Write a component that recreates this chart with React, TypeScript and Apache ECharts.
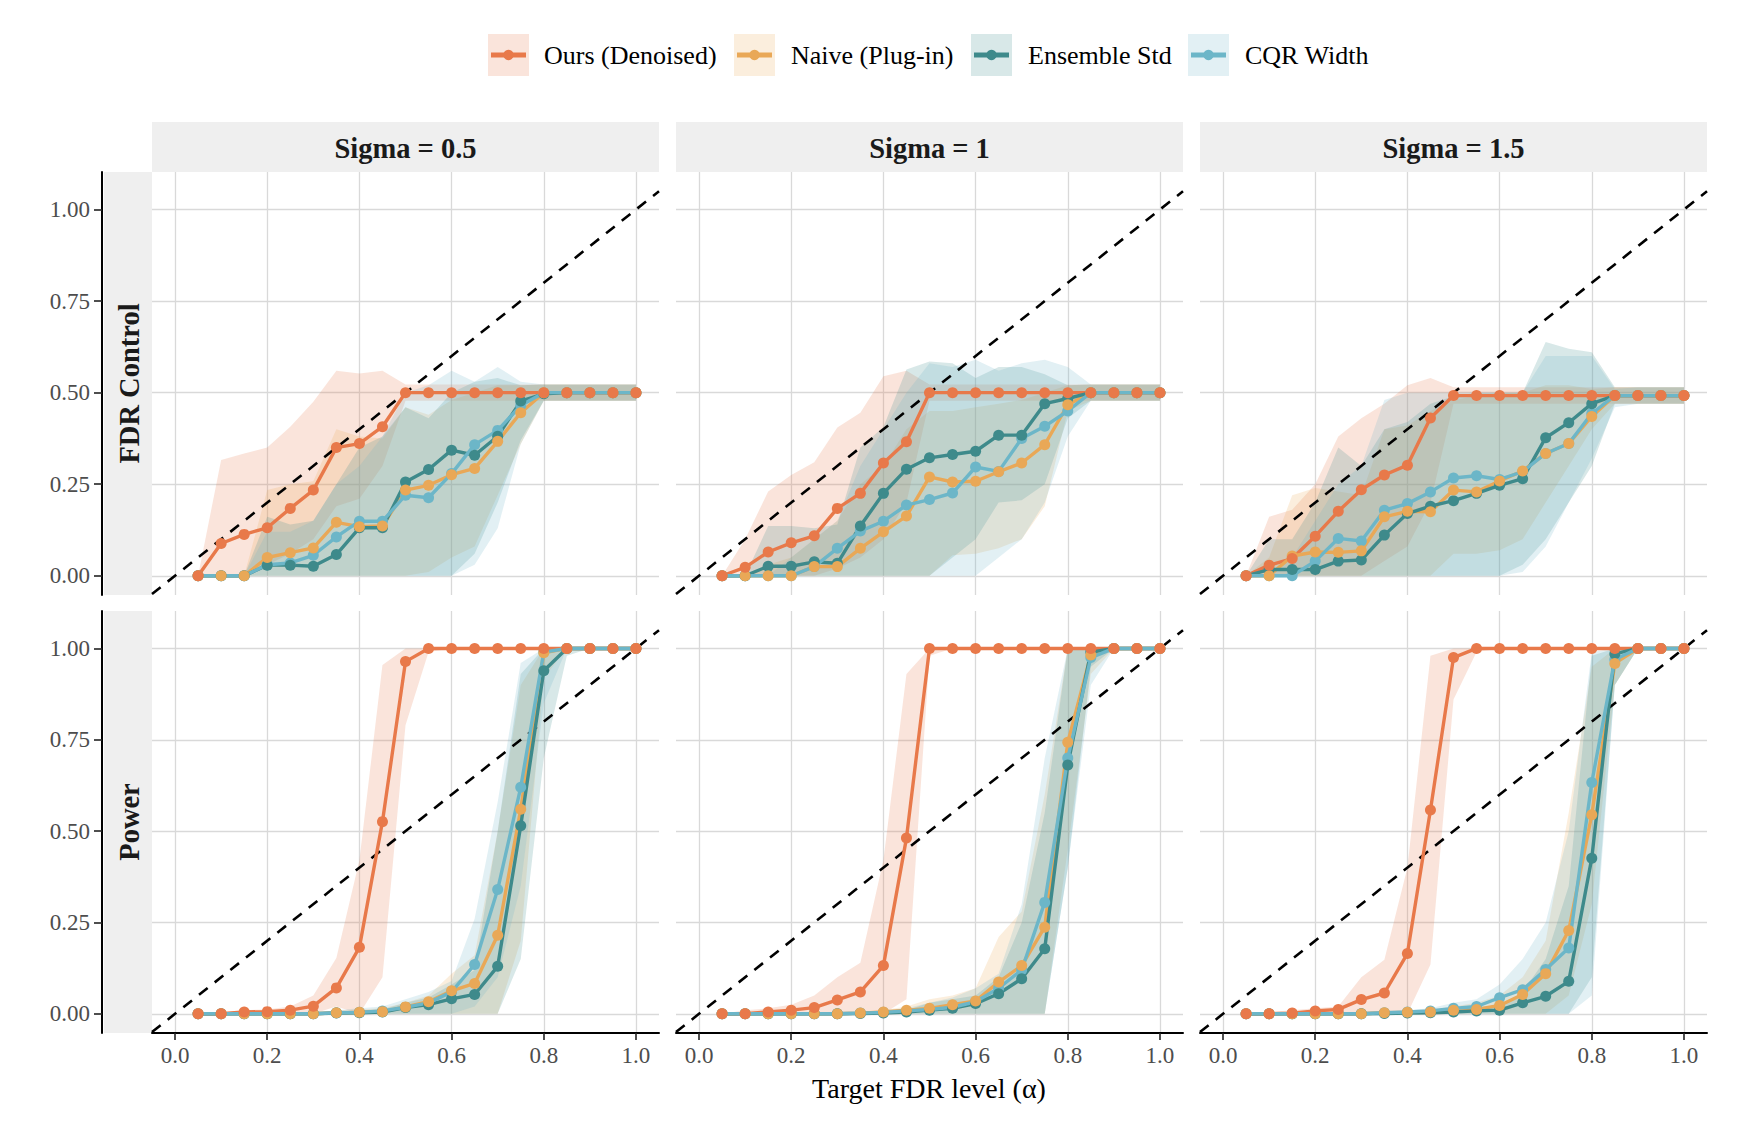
import React, { useEffect, useRef } from 'react';
import * as echarts from 'echarts';

// ---------------- data ----------------
const XS = [0.05, 0.1, 0.15, 0.2, 0.25, 0.3, 0.35, 0.4, 0.45, 0.5, 0.55, 0.6, 0.65, 0.7, 0.75, 0.8, 0.85, 0.9, 0.95, 1.0];
const METHODS = ['Ours (Denoised)', 'Naive (Plug-in)', 'Ensemble Std', 'CQR Width'];
const COLORS = ['#E8794A', '#E9A857', '#3E8A8B', '#6CB6C8'];
const RIBBON_FILLS = ['rgba(232,121,74,0.2)', 'rgba(233,168,87,0.2)', 'rgba(62,138,139,0.2)', 'rgba(108,182,200,0.2)'];
const SIGMA_LABELS = ['Sigma = 0.5', 'Sigma = 1', 'Sigma = 1.5'];
const ROW_LABELS = ['FDR Control', 'Power'];
const X_TICKS = [0, 0.2, 0.4, 0.6, 0.8, 1.0];
const Y_TICKS = [0, 0.25, 0.5, 0.75, 1.0];
const X_TITLE = 'Target FDR level (\u03b1)';

// FDR Control, Sigma = 0.5
const f05_ours = [0, 0.088, 0.113, 0.131, 0.184, 0.234, 0.35, 0.361, 0.407, 0.5, 0.5, 0.5, 0.5, 0.5, 0.5, 0.5, 0.5, 0.5, 0.5, 0.5];
const f05_ours_lo = [0, 0, 0, 0.03, 0.06, 0.1, 0.19, 0.21, 0.3, 0.478, 0.478, 0.478, 0.478, 0.478, 0.478, 0.478, 0.478, 0.478, 0.478, 0.478];
const f05_ours_hi = [0, 0.316, 0.334, 0.35, 0.407, 0.475, 0.56, 0.552, 0.56, 0.522, 0.522, 0.522, 0.522, 0.522, 0.522, 0.522, 0.522, 0.522, 0.522, 0.522];
const f05_naive = [0, 0, 0, 0.05, 0.063, 0.076, 0.146, 0.134, 0.136, 0.234, 0.247, 0.276, 0.293, 0.367, 0.445, 0.5, 0.5, 0.5, 0.5, 0.5];
const f05_naive_lo = [0, 0, 0, 0, 0, 0, 0, 0, 0, 0, 0.01, 0.05, 0.08, 0.22, 0.36, 0.478, 0.478, 0.478, 0.478, 0.478];
const f05_naive_hi = [0, 0, 0, 0.234, 0.25, 0.258, 0.4, 0.38, 0.375, 0.46, 0.44, 0.48, 0.5, 0.52, 0.52, 0.522, 0.522, 0.522, 0.522, 0.522];
const f05_ens = [0, 0, 0, 0.029, 0.029, 0.026, 0.058, 0.131, 0.131, 0.256, 0.29, 0.343, 0.329, 0.381, 0.477, 0.497, 0.5, 0.5, 0.5, 0.5];
const f05_ens_lo = [0, 0, 0, 0, 0, 0, 0, 0, 0, 0, 0, 0, 0.06, 0.2, 0.37, 0.478, 0.478, 0.478, 0.478, 0.478];
const f05_ens_hi = [0, 0, 0, 0.161, 0.14, 0.15, 0.25, 0.35, 0.38, 0.46, 0.43, 0.5, 0.53, 0.54, 0.52, 0.522, 0.522, 0.522, 0.522, 0.522];
const f05_cqr = [0, 0, 0, 0.03, 0.035, 0.056, 0.106, 0.149, 0.149, 0.22, 0.213, 0.279, 0.358, 0.397, 0.465, 0.5, 0.5, 0.5, 0.5, 0.5];
const f05_cqr_lo = [0, 0, 0, 0, 0, 0, 0, 0, 0, 0, 0, 0, 0.03, 0.13, 0.36, 0.478, 0.478, 0.478, 0.478, 0.478];
const f05_cqr_hi = [0, 0, 0, 0.12, 0.12, 0.15, 0.25, 0.3, 0.38, 0.5, 0.52, 0.56, 0.53, 0.57, 0.53, 0.522, 0.522, 0.522, 0.522, 0.522];

// FDR Control, Sigma = 1
const f10_ours = [0, 0.023, 0.065, 0.09, 0.109, 0.184, 0.225, 0.308, 0.366, 0.5, 0.5, 0.5, 0.5, 0.5, 0.5, 0.5, 0.5, 0.5, 0.5, 0.5];
const f10_ours_lo = [0, 0, 0, 0, 0, 0.02, 0.05, 0.1, 0.2, 0.478, 0.478, 0.478, 0.478, 0.478, 0.478, 0.478, 0.478, 0.478, 0.478, 0.478];
const f10_ours_hi = [0, 0.1, 0.23, 0.275, 0.31, 0.405, 0.445, 0.545, 0.56, 0.522, 0.522, 0.522, 0.522, 0.522, 0.522, 0.522, 0.522, 0.522, 0.522, 0.522];
const f10_naive = [0, 0, 0, 0, 0.025, 0.025, 0.075, 0.12, 0.163, 0.27, 0.256, 0.258, 0.284, 0.308, 0.358, 0.467, 0.5, 0.5, 0.5, 0.5];
const f10_naive_lo = [0, 0, 0, 0, 0, 0, 0, 0, 0, 0, 0.056, 0.06, 0.075, 0.1, 0.19, 0.45, 0.478, 0.478, 0.478, 0.478];
const f10_naive_hi = [0, 0, 0.03, 0.05, 0.1, 0.15, 0.25, 0.3, 0.4, 0.45, 0.45, 0.46, 0.47, 0.48, 0.5, 0.52, 0.522, 0.522, 0.522, 0.522];
const f10_ens = [0, 0, 0.026, 0.026, 0.038, 0.034, 0.136, 0.225, 0.291, 0.322, 0.331, 0.34, 0.384, 0.384, 0.47, 0.484, 0.5, 0.5, 0.5, 0.5];
const f10_ens_lo = [0, 0, 0, 0, 0, 0, 0, 0, 0, 0, 0.05, 0.1, 0.2, 0.206, 0.25, 0.43, 0.478, 0.478, 0.478, 0.478];
const f10_ens_hi = [0, 0, 0.136, 0.136, 0.13, 0.14, 0.35, 0.406, 0.563, 0.585, 0.58, 0.54, 0.57, 0.57, 0.55, 0.52, 0.522, 0.522, 0.522, 0.522];
const f10_cqr = [0, 0, 0, 0, 0.025, 0.075, 0.122, 0.149, 0.193, 0.208, 0.226, 0.297, 0.285, 0.375, 0.408, 0.45, 0.5, 0.5, 0.5, 0.5];
const f10_cqr_lo = [0, 0, 0, 0, 0, 0, 0, 0, 0, 0, 0, 0, 0.05, 0.1, 0.2, 0.38, 0.478, 0.478, 0.478, 0.478];
const f10_cqr_hi = [0, 0, 0, 0.05, 0.1, 0.15, 0.3, 0.4, 0.5, 0.58, 0.57, 0.59, 0.56, 0.58, 0.59, 0.57, 0.522, 0.522, 0.522, 0.522];

// FDR Control, Sigma = 1.5
const f15_ours = [0, 0.029, 0.047, 0.108, 0.176, 0.235, 0.275, 0.302, 0.431, 0.492, 0.492, 0.492, 0.492, 0.492, 0.492, 0.492, 0.492, 0.492, 0.492, 0.492];
const f15_ours_lo = [0, 0, 0, 0, 0, 0, 0.04, 0.08, 0.2, 0.47, 0.47, 0.47, 0.47, 0.47, 0.47, 0.47, 0.47, 0.47, 0.47, 0.47];
const f15_ours_hi = [0, 0.161, 0.18, 0.25, 0.38, 0.43, 0.47, 0.52, 0.54, 0.515, 0.515, 0.515, 0.515, 0.515, 0.515, 0.515, 0.515, 0.515, 0.515, 0.515];
const f15_naive = [0, 0, 0.054, 0.065, 0.064, 0.068, 0.161, 0.176, 0.175, 0.234, 0.229, 0.259, 0.286, 0.334, 0.361, 0.435, 0.492, 0.492, 0.492, 0.492];
const f15_naive_lo = [0, 0, 0, 0, 0, 0, 0, 0, 0, 0.06, 0.06, 0.07, 0.1, 0.2, 0.3, 0.4, 0.47, 0.47, 0.47, 0.47];
const f15_naive_hi = [0, 0.05, 0.22, 0.24, 0.23, 0.22, 0.4, 0.41, 0.45, 0.48, 0.49, 0.5, 0.5, 0.52, 0.52, 0.51, 0.515, 0.515, 0.515, 0.515];
const f15_ens = [0, 0.017, 0.017, 0.017, 0.04, 0.043, 0.111, 0.17, 0.19, 0.205, 0.225, 0.247, 0.265, 0.377, 0.418, 0.47, 0.492, 0.492, 0.492, 0.492];
const f15_ens_lo = [0, 0, 0, 0, 0, 0, 0, 0, 0, 0, 0, 0, 0.03, 0.1, 0.2, 0.3, 0.47, 0.47, 0.47, 0.47];
const f15_ens_hi = [0, 0.1, 0.1, 0.2, 0.35, 0.3, 0.4, 0.42, 0.47, 0.49, 0.5, 0.5, 0.5, 0.638, 0.62, 0.61, 0.515, 0.515, 0.515, 0.515];
const f15_cqr = [0, 0, 0, 0.04, 0.102, 0.095, 0.179, 0.197, 0.229, 0.267, 0.273, 0.263, 0.284, 0.334, 0.361, 0.443, 0.492, 0.492, 0.492, 0.492];
const f15_cqr_lo = [0, 0, 0, 0, 0, 0, 0, 0, 0, 0, 0, 0, 0.01, 0.08, 0.2, 0.32, 0.46, 0.47, 0.47, 0.47];
const f15_cqr_hi = [0, 0, 0.05, 0.15, 0.25, 0.3, 0.48, 0.5, 0.5, 0.5, 0.5, 0.5, 0.5, 0.6, 0.6, 0.6, 0.51, 0.515, 0.515, 0.515];

// Power, Sigma = 0.5
const p05_ours = [0, 0, 0.005, 0.006, 0.01, 0.021, 0.071, 0.182, 0.526, 0.964, 1, 1, 1, 1, 1, 1, 1, 1, 1, 1];
const p05_ours_lo = [0, 0, 0, 0, 0, 0, 0.02, 0, 0.1, 0.79, 0.99, 1, 1, 1, 1, 1, 1, 1, 1, 1];
const p05_ours_hi = [0, 0, 0.01, 0.012, 0.02, 0.05, 0.153, 0.42, 0.955, 1, 1, 1, 1, 1, 1, 1, 1, 1, 1, 1];
const p05_naive = [0, 0, 0, 0, 0, 0, 0.003, 0.004, 0.006, 0.019, 0.033, 0.063, 0.083, 0.215, 0.56, 0.988, 1, 1, 1, 1];
const p05_naive_lo = [0, 0, 0, 0, 0, 0, 0, 0, 0, 0, 0, 0, 0, 0, 0.2, 0.92, 1, 1, 1, 1];
const p05_naive_hi = [0, 0, 0, 0, 0, 0, 0.01, 0.012, 0.015, 0.03, 0.05, 0.11, 0.16, 0.5, 0.9, 1, 1, 1, 1, 1];
const p05_ens = [0, 0, 0, 0, 0, 0, 0.002, 0.003, 0.005, 0.017, 0.025, 0.041, 0.053, 0.13, 0.515, 0.939, 1, 1, 1, 1];
const p05_ens_lo = [0, 0, 0, 0, 0, 0, 0, 0, 0, 0, 0, 0, 0, 0, 0.15, 0.7, 0.98, 1, 1, 1];
const p05_ens_hi = [0, 0, 0, 0, 0, 0, 0.008, 0.01, 0.012, 0.03, 0.045, 0.08, 0.12, 0.5, 0.93, 1, 1, 1, 1, 1];
const p05_cqr = [0, 0, 0, 0, 0, 0, 0.003, 0.004, 0.008, 0.018, 0.03, 0.06, 0.135, 0.34, 0.62, 0.99, 1, 1, 1, 1];
const p05_cqr_lo = [0, 0, 0, 0, 0, 0, 0, 0, 0, 0, 0, 0, 0.02, 0.1, 0.35, 0.85, 1, 1, 1, 1];
const p05_cqr_hi = [0, 0, 0, 0, 0, 0, 0.01, 0.015, 0.02, 0.04, 0.06, 0.09, 0.26, 0.58, 0.96, 1, 1, 1, 1, 1];

// Power, Sigma = 1
const p10_ours = [0, 0, 0.005, 0.01, 0.017, 0.038, 0.06, 0.132, 0.481, 1, 1, 1, 1, 1, 1, 1, 1, 1, 1, 1];
const p10_ours_lo = [0, 0, 0, 0, 0, 0, 0.01, 0, 0.04, 0.98, 1, 1, 1, 1, 1, 1, 1, 1, 1, 1];
const p10_ours_hi = [0, 0.01, 0.015, 0.025, 0.05, 0.1, 0.14, 0.42, 0.93, 1, 1, 1, 1, 1, 1, 1, 1, 1, 1, 1];
const p10_naive = [0, 0, 0, 0, 0, 0, 0.002, 0.005, 0.01, 0.015, 0.025, 0.035, 0.087, 0.132, 0.237, 0.743, 0.982, 1, 1, 1];
const p10_naive_lo = [0, 0, 0, 0, 0, 0, 0, 0, 0, 0, 0, 0, 0, 0, 0, 0.45, 0.93, 1, 1, 1];
const p10_naive_hi = [0, 0, 0, 0, 0, 0, 0.005, 0.01, 0.02, 0.04, 0.05, 0.07, 0.21, 0.28, 0.6, 1, 1, 1, 1, 1];
const p10_ens = [0, 0, 0, 0, 0, 0, 0.001, 0.002, 0.005, 0.01, 0.015, 0.028, 0.055, 0.096, 0.178, 0.681, 0.99, 1, 1, 1];
const p10_ens_lo = [0, 0, 0, 0, 0, 0, 0, 0, 0, 0, 0, 0, 0, 0, 0, 0.4, 0.95, 1, 1, 1];
const p10_ens_hi = [0, 0, 0, 0, 0, 0, 0.003, 0.005, 0.01, 0.03, 0.04, 0.05, 0.1, 0.25, 0.55, 1, 1, 1, 1, 1];
const p10_cqr = [0, 0, 0, 0, 0, 0, 0.002, 0.004, 0.008, 0.012, 0.018, 0.033, 0.07, 0.12, 0.305, 0.7, 0.975, 1, 1, 1];
const p10_cqr_lo = [0, 0, 0, 0, 0, 0, 0, 0, 0, 0, 0, 0, 0, 0, 0, 0.4, 0.9, 1, 1, 1];
const p10_cqr_hi = [0, 0, 0, 0, 0, 0, 0.005, 0.01, 0.015, 0.03, 0.045, 0.07, 0.11, 0.3, 0.7, 1, 1, 1, 1, 1];

// Power, Sigma = 1.5
const p15_ours = [0, 0, 0.002, 0.008, 0.012, 0.039, 0.057, 0.165, 0.558, 0.975, 1, 1, 1, 1, 1, 1, 1, 1, 1, 1];
const p15_ours_lo = [0, 0, 0, 0, 0, 0, 0.01, 0, 0.135, 0.86, 0.99, 1, 1, 1, 1, 1, 1, 1, 1, 1];
const p15_ours_hi = [0, 0.005, 0.01, 0.015, 0.02, 0.1, 0.148, 0.4, 0.98, 1, 1, 1, 1, 1, 1, 1, 1, 1, 1, 1];
const p15_naive = [0, 0, 0, 0, 0, 0, 0.003, 0.004, 0.005, 0.01, 0.012, 0.023, 0.053, 0.11, 0.228, 0.545, 0.959, 1, 1, 1];
const p15_naive_lo = [0, 0, 0, 0, 0, 0, 0, 0, 0, 0, 0, 0, 0, 0, 0.05, 0.3, 0.9, 1, 1, 1];
const p15_naive_hi = [0, 0, 0, 0, 0, 0, 0.005, 0.008, 0.012, 0.02, 0.03, 0.05, 0.1, 0.2, 0.55, 0.95, 1, 1, 1, 1];
const p15_ens = [0, 0, 0, 0, 0, 0, 0.001, 0.002, 0.003, 0.005, 0.008, 0.01, 0.03, 0.048, 0.089, 0.426, 0.985, 1, 1, 1];
const p15_ens_lo = [0, 0, 0, 0, 0, 0, 0, 0, 0, 0, 0, 0, 0, 0, 0, 0.1, 0.9, 1, 1, 1];
const p15_ens_hi = [0, 0, 0, 0, 0, 0, 0.003, 0.005, 0.008, 0.012, 0.02, 0.02, 0.06, 0.15, 0.35, 0.98, 1, 1, 1, 1];
const p15_cqr = [0, 0, 0, 0, 0, 0, 0.003, 0.005, 0.008, 0.015, 0.02, 0.044, 0.066, 0.121, 0.18, 0.633, 0.97, 1, 1, 1];
const p15_cqr_lo = [0, 0, 0, 0, 0, 0, 0, 0, 0, 0, 0, 0, 0, 0, 0, 0.05, 0.9, 1, 1, 1];
const p15_cqr_hi = [0, 0, 0, 0, 0, 0, 0.006, 0.01, 0.015, 0.03, 0.04, 0.08, 0.15, 0.25, 0.5, 0.99, 1, 1, 1, 1];

// panels in row-major order; each method: [mean, lower, upper]
const PANELS = [
  [[f05_ours, f05_ours_lo, f05_ours_hi], [f05_naive, f05_naive_lo, f05_naive_hi], [f05_ens, f05_ens_lo, f05_ens_hi], [f05_cqr, f05_cqr_lo, f05_cqr_hi]],
  [[f10_ours, f10_ours_lo, f10_ours_hi], [f10_naive, f10_naive_lo, f10_naive_hi], [f10_ens, f10_ens_lo, f10_ens_hi], [f10_cqr, f10_cqr_lo, f10_cqr_hi]],
  [[f15_ours, f15_ours_lo, f15_ours_hi], [f15_naive, f15_naive_lo, f15_naive_hi], [f15_ens, f15_ens_lo, f15_ens_hi], [f15_cqr, f15_cqr_lo, f15_cqr_hi]],
  [[p05_ours, p05_ours_lo, p05_ours_hi], [p05_naive, p05_naive_lo, p05_naive_hi], [p05_ens, p05_ens_lo, p05_ens_hi], [p05_cqr, p05_cqr_lo, p05_cqr_hi]],
  [[p10_ours, p10_ours_lo, p10_ours_hi], [p10_naive, p10_naive_lo, p10_naive_hi], [p10_ens, p10_ens_lo, p10_ens_hi], [p10_cqr, p10_cqr_lo, p10_cqr_hi]],
  [[p15_ours, p15_ours_lo, p15_ours_hi], [p15_naive, p15_naive_lo, p15_naive_hi], [p15_ens, p15_ens_lo, p15_ens_hi], [p15_cqr, p15_cqr_lo, p15_cqr_hi]],
];
const DIAG = [[-0.05, -0.05], [1.05, 1.05]];

// ---------------- layout ----------------
const FONT = "'Liberation Serif', 'Times New Roman', Times, serif";
const GRID_LEFT = [152, 676, 1200];
const GRID_WIDTH = [507, 507, 507];
const GRID_TOP = [172, 611];
const GRID_HEIGHT = [423, 422];
const X_MIN = -0.05, X_MAX = 1.05;
const Y_MIN = -0.0525, Y_MAX = 1.1025;
const STRIP_FILL = '#EFEFEF';
const GRID_COLOR = '#D9D9D9';
const TEXT_DARK = '#1A1A1A';
const TICK_TEXT = '#4D4D4D';
const LEGEND_KEY_X = [488, 734, 971, 1188];
const LEGEND_TEXT_X = [544, 791, 1028, 1245];

function buildOption() {
  const grids: any[] = [];
  const xAxes: any[] = [];
  const yAxes: any[] = [];
  const series: any[] = [];

  PANELS.forEach((panel, gi) => {
    const row = Math.floor(gi / 3);
    const col = gi % 3;
    grids.push({ left: GRID_LEFT[col], top: GRID_TOP[row], width: GRID_WIDTH[col], height: GRID_HEIGHT[row], show: false, containLabel: false, outerBoundsMode: 'none' });
    xAxes.push({
      type: 'value', gridIndex: gi, min: X_MIN, max: X_MAX,
      axisLine: { show: row === 1, onZero: false, lineStyle: { color: '#000', width: 2 } },
      axisTick: { show: row === 1, customValues: X_TICKS, length: 7, lineStyle: { color: '#222', width: 1.6 } },
      axisLabel: { show: row === 1, customValues: X_TICKS, formatter: (v: number) => v.toFixed(1), fontFamily: FONT, fontSize: 23, color: TICK_TEXT, margin: 11 },
      splitLine: { show: true, lineStyle: { color: GRID_COLOR, width: 1.3 } },
    });
    yAxes.push({
      type: 'value', gridIndex: gi, min: Y_MIN, max: Y_MAX, offset: col === 0 ? 50 : 0,
      axisLine: { show: col === 0, onZero: false, lineStyle: { color: '#000', width: 2 } },
      axisTick: { show: col === 0, customValues: Y_TICKS, length: 8, lineStyle: { color: '#222', width: 1.6 } },
      axisLabel: { show: col === 0, customValues: Y_TICKS, formatter: (v: number) => v.toFixed(2), fontFamily: FONT, fontSize: 23, color: TICK_TEXT, margin: 12 },
      splitLine: { show: true, lineStyle: { color: GRID_COLOR, width: 1.3 } },
    });

    // ribbons
    panel.forEach((m, mi) => {
      const lo = m[1];
      const hi = m[2];
      series.push({
        type: 'custom', xAxisIndex: gi, yAxisIndex: gi, z: 2, silent: true, clip: true,
        data: [[XS[0], lo[0]]],
        renderItem: (params: any, api: any) => {
          const pts: number[][] = [];
          for (let i = 0; i < XS.length; i++) pts.push(api.coord([XS[i], hi[i]]));
          for (let i = XS.length - 1; i >= 0; i--) pts.push(api.coord([XS[i], lo[i]]));
          return { type: 'polygon', shape: { points: pts }, style: { fill: RIBBON_FILLS[mi], stroke: 'none' } };
        },
      });
    });

    // diagonal reference
    series.push({
      type: 'line', xAxisIndex: gi, yAxisIndex: gi, z: 3, silent: true, data: DIAG,
      symbol: 'none', lineStyle: { color: '#000', width: 2.6, type: [11, 9] },
    });

    // lines (legend order)
    panel.forEach((m, mi) => {
      series.push({
        type: 'line', name: METHODS[mi], xAxisIndex: gi, yAxisIndex: gi, z: 4, silent: true,
        data: XS.map((x, i) => [x, m[0][i]]), symbol: 'none',
        lineStyle: { color: COLORS[mi], width: 3.4 },
      });
    });

    // points (alphabetical order -> Ours on top)
    [3, 2, 1, 0].forEach((mi) => {
      const m = panel[mi];
      series.push({
        type: 'scatter', xAxisIndex: gi, yAxisIndex: gi, z: 5, silent: true,
        data: XS.map((x, i) => [x, m[0][i]]), symbol: 'circle', symbolSize: 11,
        itemStyle: { color: COLORS[mi], opacity: 1 },
      });
    });
  });

  const g: any[] = [];
  // column strips
  SIGMA_LABELS.forEach((lab, c) => {
    g.push({ type: 'rect', shape: { x: GRID_LEFT[c], y: 122, width: GRID_WIDTH[c], height: 50 }, style: { fill: STRIP_FILL } });
    g.push({ type: 'text', x: GRID_LEFT[c] + GRID_WIDTH[c] / 2, y: 148,
      style: { text: lab, fontFamily: FONT, fontSize: 28.5, fontWeight: 'bold', fill: TEXT_DARK, textAlign: 'center', textVerticalAlign: 'middle', align: 'center', verticalAlign: 'middle' } });
  });
  // row strips
  ROW_LABELS.forEach((lab, r) => {
    g.push({ type: 'rect', shape: { x: 104, y: GRID_TOP[r], width: 48, height: GRID_HEIGHT[r] }, style: { fill: STRIP_FILL } });
    g.push({ type: 'text', x: 129, y: GRID_TOP[r] + GRID_HEIGHT[r] / 2, rotation: Math.PI / 2,
      style: { text: lab, fontFamily: FONT, fontSize: 28.5, fontWeight: 'bold', fill: TEXT_DARK, textAlign: 'center', textVerticalAlign: 'middle', align: 'center', verticalAlign: 'middle' } });
  });
  // legend
  METHODS.forEach((name, i) => {
    const kx = LEGEND_KEY_X[i];
    g.push({ type: 'rect', shape: { x: kx, y: 34, width: 41, height: 42 }, style: { fill: RIBBON_FILLS[i] } });
    g.push({ type: 'line', shape: { x1: kx + 3, y1: 55, x2: kx + 38, y2: 55 }, style: { stroke: COLORS[i], lineWidth: 5 } });
    g.push({ type: 'circle', shape: { cx: kx + 20.5, cy: 55, r: 5.2 }, style: { fill: COLORS[i] } });
    g.push({ type: 'text', x: LEGEND_TEXT_X[i], y: 55,
      style: { text: name, fontFamily: FONT, fontSize: 26, fill: '#000', textAlign: 'left', textVerticalAlign: 'middle', align: 'left', verticalAlign: 'middle' } });
  });
  // x axis title
  g.push({ type: 'text', x: 929, y: 1088,
    style: { text: X_TITLE, fontFamily: FONT, fontSize: 28, fill: '#000', textAlign: 'center', textVerticalAlign: 'middle', align: 'center', verticalAlign: 'middle' } });

  return {
    animation: false,
    backgroundColor: '#FFFFFF',
    tooltip: { show: false },
    grid: grids,
    xAxis: xAxes,
    yAxis: yAxes,
    series,
    graphic: { elements: g },
  };
}

export default function App() {
  const ref = useRef<HTMLDivElement>(null);
  useEffect(() => {
    if (!ref.current) return;
    const chart = echarts.init(ref.current, undefined, { renderer: 'svg' });
    chart.setOption(buildOption() as any);
    return () => chart.dispose();
  }, []);
  return <div ref={ref} style={{ position: 'absolute', left: 0, top: 0, width: 1749, height: 1123 }} />;
}
